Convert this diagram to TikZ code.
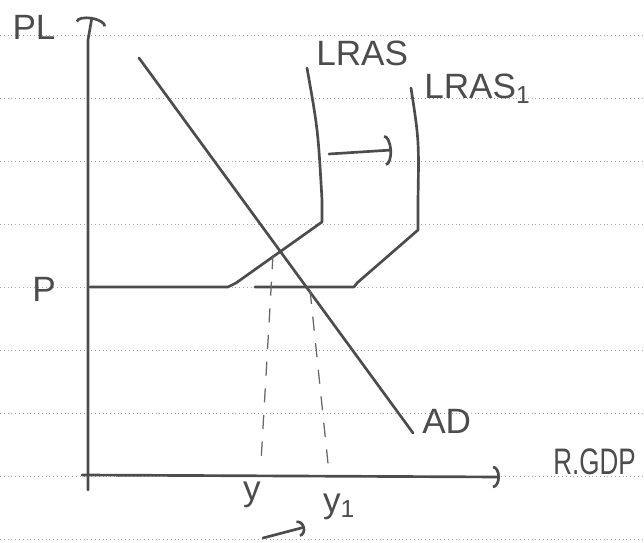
\documentclass[tikz,border=0pt]{standalone}
\usepackage{fontspec}
\setsansfont{Liberation Sans}
\usetikzlibrary{positioning, arrows.meta}

\tikzset{
  ink/.style={draw=black!70, line width=1.9pt, line cap=round, line join=round},
  hand/.style={text=black!70, font=\sffamily\fontsize{25}{25}\selectfont, inner sep=0pt},
  ruling/.style={draw=black!35, dotted, line width=0.7pt},
  guide/.style={draw=black!60, line width=0.9pt, dash pattern=on 10pt off 9pt},
  hook/.style={-{Arc Barb[length=5pt, width=#1, line width=1.9pt]}},
}

\begin{document}
\begin{tikzpicture}[x=0.025cm, y=-0.025cm]
\useasboundingbox (0,0) rectangle (644,543);

% lined paper
\foreach \r in {35,98,...,539}
  \draw[ruling] (0,\r) -- (644,\r);

% axes
\coordinate (yfoot) at (88,490);
\coordinate (ytop) at (92,17);
\coordinate (xfoot) at (82,475);
\coordinate (xtip) at (500,477);
\draw[ink, hook=22pt] (yfoot) -- (88,40) -- (ytop);
\draw[ink, hook=16pt] (xfoot) -- (xtip);

\node[hand] (plab) at (34,27) {PL};
\node[hand] (pval) at (44,289) {P};
\node[hand, anchor=west] (gdp) at (553,462) {\scalebox{0.74}[1.05]{R.GDP}};

% curves
\draw[ink] (307,68) .. controls (318,130) .. (322,200) -- (322,222) -- (236,283) -- (228,287) -- (90,287);
\draw[ink] (411,88) .. controls (419,140) .. (418,200) -- (418,230) -- (357,283) -- (354,287) -- (255,287);
\draw[ink] (139,58) -- (413,433);

\node[hand, anchor=south west] (lras) at (316,66) {LRAS};
\node[hand, anchor=south west] (lras1) at (424,104) {LRAS\textsubscript{1}};
\node[hand, anchor=west] (ad) at (422,421) {AD};

% output levels
\coordinate (eq0) at (273,255);
\coordinate (eq1) at (310,290);
\node[hand] (yzero) at (252,495) {y};
\node[hand] (yone) at (339,507) {y\textsubscript{1}};
\draw[guide] (eq0) -- (261,462);
\draw[guide] (eq1) -- (329,473);

% shifts
\coordinate (sa) at (329,154);
\coordinate (sb) at (392,150);
\coordinate (ta) at (263,538);
\coordinate (tb) at (305,527);
\draw[ink, hook=22pt] (sa) -- (sb);
\draw[ink, hook=12pt] (ta) -- (tb);

\end{tikzpicture}
\end{document}
